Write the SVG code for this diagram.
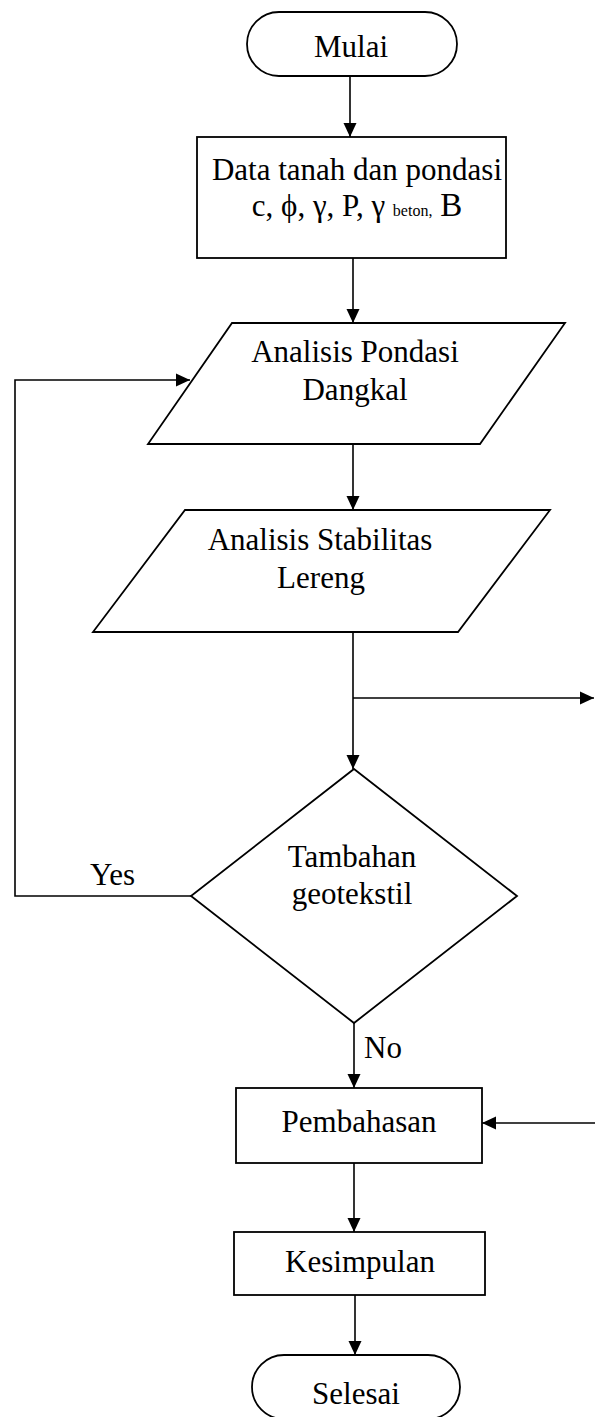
<svg xmlns="http://www.w3.org/2000/svg" width="595" height="1417" viewBox="0 0 595 1417">
<defs>
<marker id="ah" markerWidth="15" markerHeight="14" refX="14" refY="7" orient="auto" markerUnits="userSpaceOnUse">
<path d="M0,0.5 L14,7 L0,13.5 Z" fill="#000"/>
</marker>
</defs>
<style>
.shape{fill:#fff;stroke:#000;stroke-width:1.8}
.conn{fill:none;stroke:#000;stroke-width:1.6}
text{font-family:"Liberation Serif","Times New Roman",serif;font-size:31px;fill:#000}
.c{text-anchor:middle}
</style>
<rect width="595" height="1417" fill="#fff"/>
<g id="connectors">
<line class="conn" x1="350" y1="76" x2="350" y2="137" marker-end="url(#ah)"/>
<line class="conn" x1="353" y1="258" x2="353" y2="323" marker-end="url(#ah)"/>
<line class="conn" x1="353" y1="444" x2="353" y2="510" marker-end="url(#ah)"/>
<line class="conn" x1="353" y1="632" x2="353" y2="769" marker-end="url(#ah)"/>
<polyline class="conn" points="353,698 594,698" marker-end="url(#ah)"/>
<polyline class="conn" points="191,896 15,896 15,380 190,380" marker-end="url(#ah)"/>
<line class="conn" x1="354" y1="1023" x2="354" y2="1088" marker-end="url(#ah)"/>
<line class="conn" x1="595" y1="1123" x2="482" y2="1123" marker-end="url(#ah)"/>
<line class="conn" x1="354" y1="1163" x2="354" y2="1232" marker-end="url(#ah)"/>
<line class="conn" x1="355" y1="1295" x2="355" y2="1355" marker-end="url(#ah)"/>
<text x="90" y="885">Yes</text>
<text x="364" y="1058">No</text>
</g>
<g id="mulai">
<rect class="shape" x="247" y="12" width="210" height="64" rx="32" ry="32"/>
<text class="c" x="351" y="57">Mulai</text>
</g>
<g id="data">
<rect class="shape" x="197" y="137" width="309" height="121"/>
<text class="c" x="357" y="180">Data tanah dan pondasi</text>
<text class="c" x="357" y="216">c, ϕ, γ, P, γ <tspan font-size="16">beton,</tspan> <tspan font-size="33">B</tspan></text>
</g>
<g id="pondasi">
<polygon class="shape" points="232,323 565,323 480,444 148,444"/>
<text class="c" x="355" y="362">Analisis Pondasi</text>
<text class="c" x="355" y="400">Dangkal</text>
</g>
<g id="stabilitas">
<polygon class="shape" points="185,510 550,510 458,632 93,632"/>
<text class="c" x="320" y="550">Analisis Stabilitas</text>
<text class="c" x="321" y="588">Lereng</text>
</g>
<g id="geotekstil">
<polygon class="shape" points="354,769 517,896 354,1023 191,896"/>
<text class="c" x="352" y="867">Tambahan</text>
<text class="c" x="352" y="904">geotekstil</text>
</g>
<g id="pembahasan">
<rect class="shape" x="236" y="1088" width="246" height="75"/>
<text class="c" x="359" y="1132">Pembahasan</text>
</g>
<g id="kesimpulan">
<rect class="shape" x="234" y="1232" width="251" height="63"/>
<text class="c" x="360" y="1272">Kesimpulan</text>
</g>
<g id="selesai">
<rect class="shape" x="252" y="1355" width="208" height="64" rx="32" ry="32"/>
<text class="c" x="356" y="1404">Selesai</text>
</g>
</svg>
